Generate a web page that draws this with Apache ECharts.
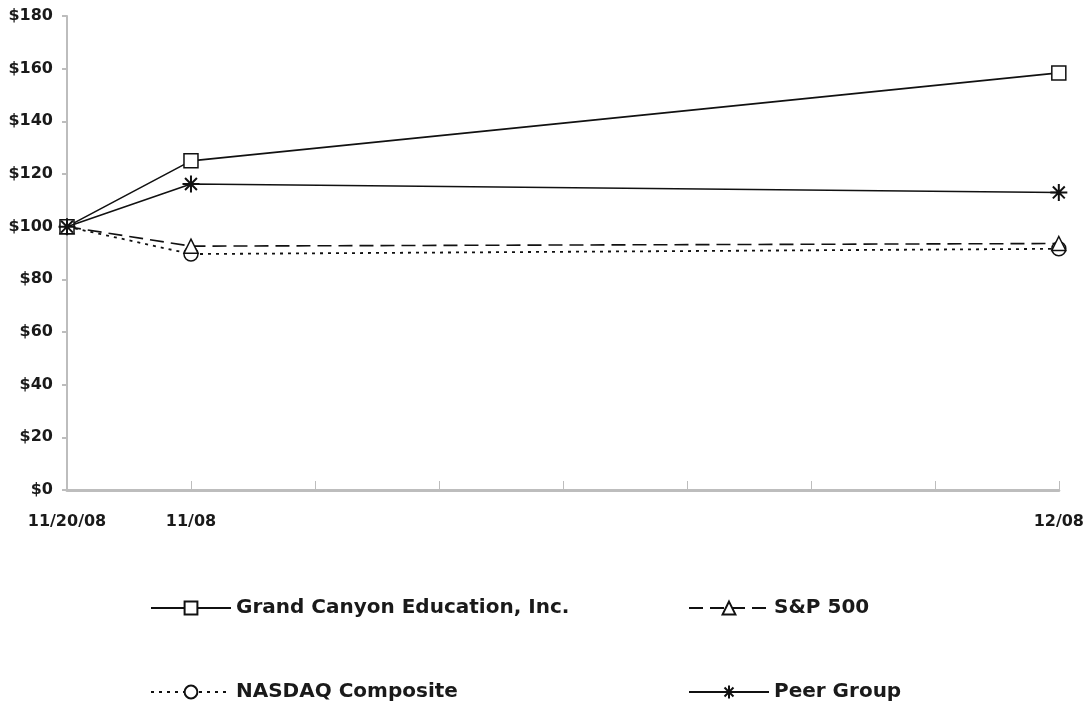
<!DOCTYPE html>
<html>
<head>
<meta charset="utf-8">
<script src="https://cdn.jsdelivr.net/npm/echarts@6/dist/echarts.min.js"></script>
<style>html,body{margin:0;padding:0;background:#fff}#c{width:1087px;height:703px}</style>
</head>
<body>
<div id="c"></div>
<script>
var categories = ['11/20/08', '11/08', '', '', '', '', '', '', '12/08'];
var gce    = [100, 125, null, null, null, null, null, null, 158.4];
var sp500  = [100, 92.6, null, null, null, null, null, null, 93.6];
var nasdaq = [100, 89.6, null, null, null, null, null, null, 91.6];
var peer   = [100, 116.2, null, null, null, null, null, null, 113.0];
var seriesNames = ['Grand Canyon Education, Inc.', 'S&P 500', 'NASDAQ Composite', 'Peer Group'];

var asterisk = 'path://M0,5L10,5M5,0L5,10M1.5,1.5L8.5,8.5M8.5,1.5L1.5,8.5';
var font = 'DejaVu Sans, Verdana, sans-serif';

var chart = echarts.init(document.getElementById('c'));
function legendAt(name, left, top) {
  return {
    data: [name], left: left, top: top, itemWidth: 80, itemHeight: 16, itemGap: 6,
    textStyle: {fontFamily: font, fontWeight: 'bold', fontSize: 20, color: '#1a1a1a'},
    selectedMode: false
  };
}
chart.setOption({
  backgroundColor: '#fff',
  animation: false,
  grid: {left: 67, right: 27, top: 16, bottom: 213},
  legend: [
    legendAt(seriesNames[0], 145, 593),
    legendAt(seriesNames[1], 683, 593),
    legendAt(seriesNames[2], 145, 677),
    legendAt(seriesNames[3], 683, 677)
  ],
  xAxis: {
    type: 'category', data: categories, boundaryGap: false,
    axisLine: {lineStyle: {color: '#bdbdbd', width: 3}},
    axisTick: {inside: true, length: 9, interval: 0, lineStyle: {color: '#bdbdbd', width: 1}},
    axisLabel: {interval: 0, margin: 24, fontFamily: font, fontWeight: 'bold', fontSize: 16, color: '#1a1a1a'},
    splitLine: {show: false}
  },
  yAxis: {
    type: 'value', min: 0, max: 180, interval: 20,
    axisLine: {show: true, lineStyle: {color: '#bdbdbd', width: 2}},
    axisTick: {show: true, length: 5, lineStyle: {color: '#bdbdbd', width: 2}},
    axisLabel: {margin: 14, fontFamily: font, fontWeight: 'bold', fontSize: 16, color: '#1a1a1a',
      formatter: function (v) { return '$' + v; }},
    splitLine: {show: false}
  },
  series: [
    {name: seriesNames[0], type: 'line', data: gce, connectNulls: true, z: 4,
      symbol: 'rect', symbolSize: 14,
      itemStyle: {color: '#fff', borderColor: '#111', borderWidth: 1.5},
      lineStyle: {color: '#111', width: 1.6}},
    {name: seriesNames[1], type: 'line', data: sp500, connectNulls: true, z: 3,
      symbol: 'triangle', symbolSize: 14,
      itemStyle: {color: '#fff', borderColor: '#111', borderWidth: 1.5},
      lineStyle: {color: '#111', width: 1.6, type: [14, 7]}},
    {name: seriesNames[2], type: 'line', data: nasdaq, connectNulls: true, z: 2,
      symbol: 'circle', symbolSize: 14,
      itemStyle: {color: '#fff', borderColor: '#111', borderWidth: 1.5},
      lineStyle: {color: '#111', width: 1.8, type: [3, 5]}},
    {name: seriesNames[3], type: 'line', data: peer, connectNulls: true, z: 5,
      symbol: asterisk, symbolSize: 17,
      itemStyle: {color: 'none', borderColor: '#111', borderWidth: 2},
      lineStyle: {color: '#111', width: 1.6}}
  ]
});
</script>
</body>
</html>
